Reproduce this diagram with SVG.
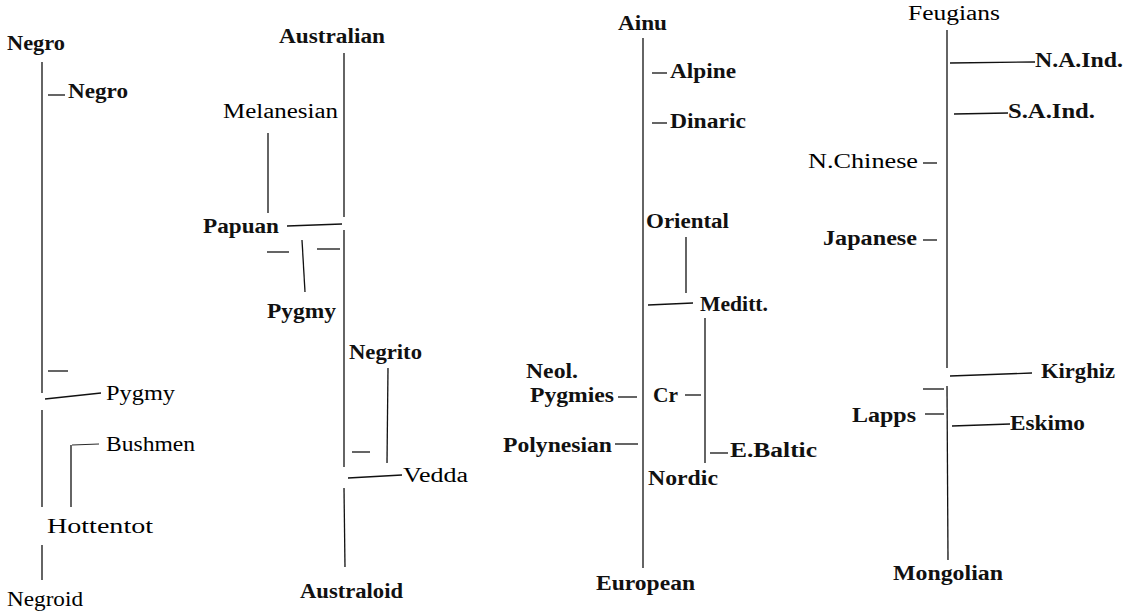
<svg xmlns="http://www.w3.org/2000/svg" width="1133" height="614" viewBox="0 0 1133 614">
<style>
text{font-family:"Liberation Serif","DejaVu Serif",serif;font-size:20px;fill:#111;font-weight:bold}
text.l{font-weight:normal;fill:#000}
line{stroke:#111;stroke-width:1.3;fill:none}
</style>
<rect width="1133" height="614" fill="#fff"/>
<g id="connectors">
<!-- Negroid -->
<line x1="42" y1="62" x2="42" y2="393"/>
<line x1="42" y1="410" x2="42" y2="507"/>
<line x1="42" y1="545" x2="42" y2="580"/>
<line x1="48" y1="95" x2="65" y2="95"/>
<line x1="48" y1="371" x2="68" y2="371"/>
<line x1="45" y1="399" x2="101" y2="393"/>
<line x1="72" y1="445" x2="99" y2="444" style="stroke-width:0.9"/>
<line x1="71" y1="445" x2="71" y2="507"/>
<!-- Australoid -->
<line x1="344" y1="53" x2="344" y2="217"/>
<line x1="344" y1="230" x2="344" y2="467"/>
<line x1="344" y1="488" x2="345" y2="567"/>
<line x1="268" y1="133" x2="268" y2="213"/>
<line x1="287" y1="226" x2="342" y2="224"/>
<line x1="267" y1="252" x2="289" y2="252"/>
<line x1="317" y1="249" x2="340" y2="249"/>
<line x1="302" y1="240" x2="305" y2="292"/>
<line x1="388" y1="368" x2="387" y2="463"/>
<line x1="352" y1="452" x2="370" y2="452"/>
<line x1="348" y1="478" x2="402" y2="475"/>
<!-- European -->
<line x1="643" y1="38" x2="643" y2="568"/>
<line x1="652" y1="73" x2="667" y2="73"/>
<line x1="652" y1="123" x2="667" y2="123"/>
<line x1="686" y1="237" x2="686" y2="293"/>
<line x1="648" y1="305" x2="693" y2="303"/>
<line x1="705" y1="318" x2="705" y2="463"/>
<line x1="618" y1="397" x2="637" y2="397"/>
<line x1="685" y1="395" x2="701" y2="395"/>
<line x1="615" y1="444" x2="638" y2="444"/>
<line x1="710" y1="453" x2="728" y2="453"/>
<!-- Mongolian -->
<line x1="947" y1="30" x2="947" y2="368"/>
<line x1="947" y1="386" x2="948" y2="560"/>
<line x1="950" y1="63" x2="1035" y2="62"/>
<line x1="954" y1="114" x2="1008" y2="113"/>
<line x1="923" y1="163" x2="937" y2="163"/>
<line x1="923" y1="240" x2="937" y2="240"/>
<line x1="950" y1="376" x2="1032" y2="373"/>
<line x1="923" y1="389" x2="944" y2="389"/>
<line x1="925" y1="414" x2="944" y2="414"/>
<line x1="952" y1="426" x2="1010" y2="424"/>
</g>
<g id="negroid-group">
<text id="negro-top" x="7" y="50" textLength="58" lengthAdjust="spacingAndGlyphs">Negro</text>
<text id="negro" x="68" y="98" textLength="60" lengthAdjust="spacingAndGlyphs">Negro</text>
<text id="pygmy1" class="l" x="106" y="400" textLength="69" lengthAdjust="spacingAndGlyphs">Pygmy</text>
<text id="bushmen" class="l" x="106" y="451" textLength="89" lengthAdjust="spacingAndGlyphs">Bushmen</text>
<text id="hottentot" class="l" x="47" y="533" textLength="106" lengthAdjust="spacingAndGlyphs">Hottentot</text>
<text id="negroid" class="l" x="7" y="606" textLength="76" lengthAdjust="spacingAndGlyphs">Negroid</text>
</g>
<g id="australoid-group">
<text id="australian" x="279" y="43" textLength="106" lengthAdjust="spacingAndGlyphs">Australian</text>
<text id="melanesian" class="l" x="223" y="118" textLength="115" lengthAdjust="spacingAndGlyphs">Melanesian</text>
<text id="papuan" x="203" y="233" textLength="76" lengthAdjust="spacingAndGlyphs">Papuan</text>
<text id="pygmy2" x="267" y="318" textLength="69" lengthAdjust="spacingAndGlyphs">Pygmy</text>
<text id="negrito" x="349" y="359" textLength="73" lengthAdjust="spacingAndGlyphs">Negrito</text>
<text id="vedda" class="l" x="403" y="482" textLength="65" lengthAdjust="spacingAndGlyphs">Vedda</text>
<text id="australoid" x="300" y="598" textLength="103" lengthAdjust="spacingAndGlyphs">Australoid</text>
</g>
<g id="european-group">
<text id="ainu" x="618" y="30" textLength="49" lengthAdjust="spacingAndGlyphs">Ainu</text>
<text id="alpine" x="670" y="78" textLength="66" lengthAdjust="spacingAndGlyphs">Alpine</text>
<text id="dinaric" x="670" y="128" textLength="76" lengthAdjust="spacingAndGlyphs">Dinaric</text>
<text id="oriental" x="646" y="228" textLength="83" lengthAdjust="spacingAndGlyphs">Oriental</text>
<text id="meditt" x="700" y="311" textLength="68" lengthAdjust="spacingAndGlyphs">Meditt.</text>
<text id="neol" x="526" y="378" textLength="52" lengthAdjust="spacingAndGlyphs">Neol.</text>
<text id="pygmies" x="530" y="402" textLength="84" lengthAdjust="spacingAndGlyphs">Pygmies</text>
<text id="cr" x="653" y="402" textLength="25" lengthAdjust="spacingAndGlyphs">Cr</text>
<text id="polynesian" x="503" y="452" textLength="109" lengthAdjust="spacingAndGlyphs">Polynesian</text>
<text id="ebaltic" x="730" y="457" textLength="87" lengthAdjust="spacingAndGlyphs">E.Baltic</text>
<text id="nordic" x="648" y="485" textLength="70" lengthAdjust="spacingAndGlyphs">Nordic</text>
<text id="european" x="596" y="590" textLength="99" lengthAdjust="spacingAndGlyphs">European</text>
</g>
<g id="mongolian-group">
<text id="feugians" class="l" x="908" y="20" textLength="92" lengthAdjust="spacingAndGlyphs">Feugians</text>
<text id="naind" x="1035" y="67" textLength="88" lengthAdjust="spacingAndGlyphs">N.A.Ind.</text>
<text id="saind" x="1008" y="118" textLength="87" lengthAdjust="spacingAndGlyphs">S.A.Ind.</text>
<text id="nchinese" class="l" x="808" y="168" textLength="110" lengthAdjust="spacingAndGlyphs">N.Chinese</text>
<text id="japanese" x="823" y="245" textLength="94" lengthAdjust="spacingAndGlyphs">Japanese</text>
<text id="kirghiz" x="1041" y="378" textLength="74" lengthAdjust="spacingAndGlyphs">Kirghiz</text>
<text id="lapps" x="852" y="422" textLength="64" lengthAdjust="spacingAndGlyphs">Lapps</text>
<text id="eskimo" x="1010" y="430" textLength="75" lengthAdjust="spacingAndGlyphs">Eskimo</text>
<text id="mongolian" x="893" y="580" textLength="110" lengthAdjust="spacingAndGlyphs">Mongolian</text>
</g>
</svg>
